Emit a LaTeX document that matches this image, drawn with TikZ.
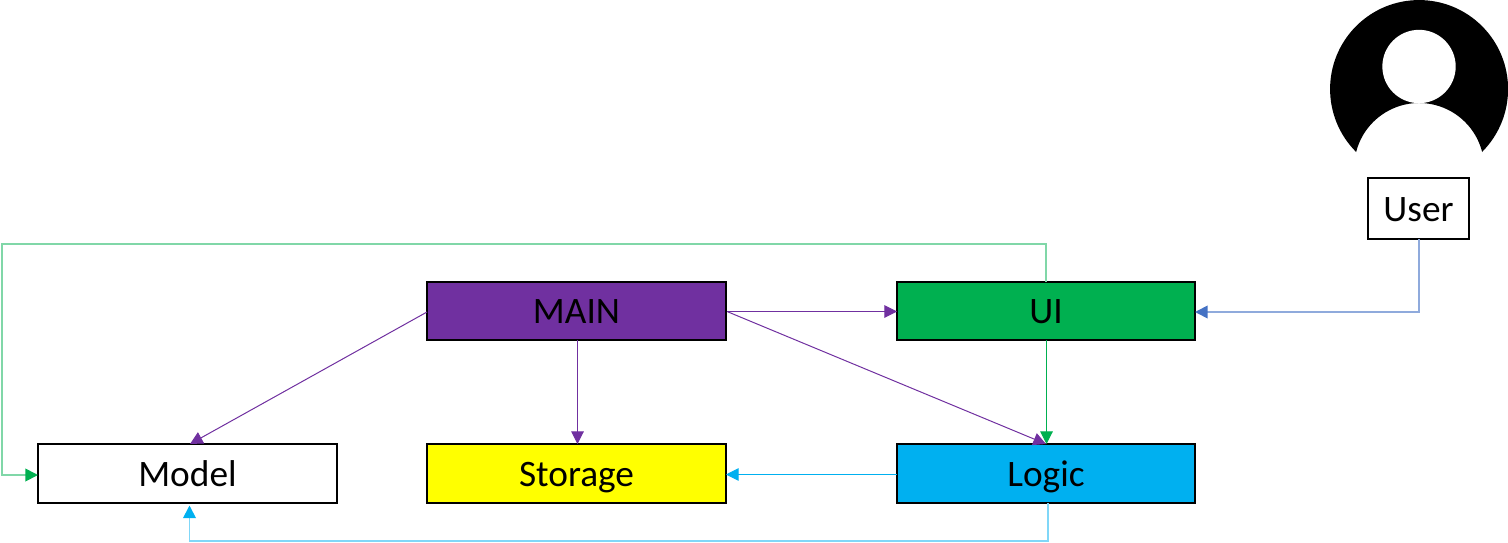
\documentclass[tikz,border=0pt]{standalone}
\usepackage{fontspec}
\setmainfont{Carlito}
\usetikzlibrary{arrows.meta}
\definecolor{mainpurple}{HTML}{7030A0}
\definecolor{uigreen}{HTML}{00B050}
\definecolor{logicblue}{HTML}{00B0F0}
\definecolor{logicyellow}{HTML}{FFFF00}
\definecolor{userblue}{HTML}{4472C4}
\tikzset{
  unit/.style={draw=black,line width=1.5pt,rectangle,inner sep=0pt,outer sep=0pt,
    minimum width=224.25pt,minimum height=44.25pt,text=black,
    text height=20pt,text depth=1pt,font=\fontsize{28}{32}\selectfont},
  uprow/.style={minimum height=43.5pt},
  rightcol/.style={minimum width=223.5pt},
  link/.style={line width=0.75pt,draw=#1,-{Triangle[length=9.5pt,width=9.5pt,color=#1]}},
  routed/.style 2 args={line width=1.4pt,draw=#1,-{Triangle[length=9.5pt,width=9.5pt,color=#2]}},
}
\begin{document}
\begin{tikzpicture}[x=0.75pt,y=-0.75pt]
\useasboundingbox (0,0) rectangle (1508,542);

% Person icon: head and shoulders cut out of a disc
\fill[black] (1482,152) arc[start angle=-45,end angle=225,radius=66.75pt]
  arc[start angle=165.75,end angle=14.25,radius=48.75pt] -- cycle;
\fill[white] (1419,66.5) circle[radius=27.5pt];

% Component boxes
\node[unit,uprow,fill=mainpurple] (main) at (576.5,311) {MAIN};
\node[unit,uprow,rightcol,fill=uigreen] (ui) at (1046,311) {UI};
\node[unit,fill=white] (model) at (187.5,473.5) {Model};
\node[unit,fill=logicyellow] (storage) at (576.5,473.5) {Storage};
\node[unit,rightcol,fill=logicblue] (logic) at (1046,473.5) {Logic};
\node[unit,fill=white,minimum width=75.75pt,minimum height=45.75pt] (user) at (1418.5,208.5) {User};

% Connector end points, set on the pixel grid beside the box anchors
\coordinate (mainright) at (727,311.5);
\coordinate (uileft) at (897,311.5);
\coordinate (uiright) at (1195,312);
\coordinate (mainleft) at (427,312);
\coordinate (maindown) at (577.5,340);
\coordinate (storagetop) at (577.5,444);
\coordinate (modeltop) at (190,444);
\coordinate (uidown) at (1046.5,340);
\coordinate (logictop) at (1046.5,444);
\coordinate (logicleft) at (897,474.5);
\coordinate (storageright) at (726,474.5);
\coordinate (modelleft) at (38,475);
\coordinate (userdown) at (1419,239);
\coordinate (logicout) at (1048,503);
\coordinate (modelin) at (189.5,505.5);
\coordinate (logicbus) at (1048,541);
\coordinate (uibusa) at (1046,244);
\coordinate (uibusb) at (2,244);
\coordinate (uibusc) at (2,475);

% Calls made by MAIN
\draw[link=mainpurple] (mainright) -- (uileft);
\draw[link=mainpurple] (maindown) -- (storagetop);
\draw[link=mainpurple] (mainleft) -- (modeltop);
\draw[link=mainpurple] (mainright) -- (logic.north);

% Calls made by UI
\draw[link=uigreen] (uidown) -- (logictop);
\draw[routed={uigreen!50!white}{uigreen}] (ui.north) -- (uibusa) -- (uibusb) -- (uibusc) -- (modelleft);

% Calls made by Logic
\draw[link=logicblue] (logicleft) -- (storageright);
\draw[routed={logicblue!50!white}{logicblue}] (logicout) -- (logicbus) -| (modelin);

% User input
\draw[routed={userblue!60!white}{userblue}] (userdown) |- (uiright);
\end{tikzpicture}
\end{document}
